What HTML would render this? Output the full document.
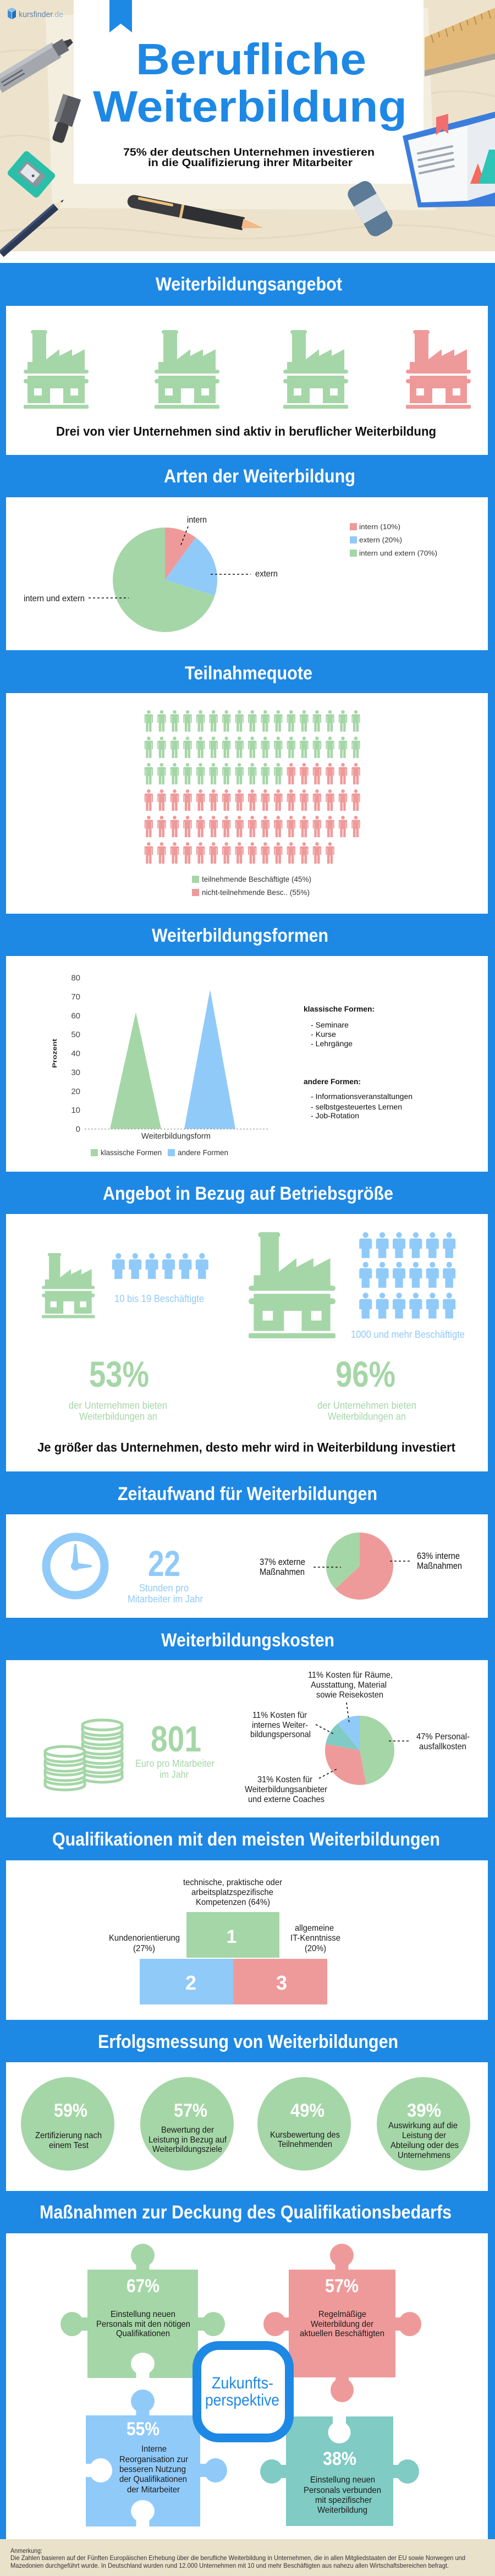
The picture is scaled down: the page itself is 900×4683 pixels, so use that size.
<!DOCTYPE html>
<html><head><meta charset="utf-8"><title>Berufliche Weiterbildung</title>
<style>
html,body{margin:0;padding:0;background:#fff;width:900px;height:4683px;overflow:hidden}
svg{display:block}
text{font-family:"Liberation Sans",Arial,Helvetica,sans-serif}
.tt{font-weight:bold;font-size:34px;fill:#fff}
.lb{font-size:16px;fill:#1a1a1a}
.sm{font-size:14px;fill:#333}
.bw{font-weight:bold;fill:#fff}
</style></head><body>
<svg width="900" height="4683" viewBox="0 0 900 4683" xmlns="http://www.w3.org/2000/svg">
<defs>
 <g id="fac">
  <rect x="13" y="0" width="30" height="7" rx="3.5"/>
  <rect x="16" y="6" width="25" height="54"/>
  <polygon points="40,60 40,54 65,35 65,47 88,35 88,47 111,35 111,60"/>
  <rect x="7" y="58" width="104" height="16"/>
  <rect x="0" y="72" width="118" height="7" rx="3.5"/>
  <rect x="7" y="83" width="104" height="50"/>
  <rect x="0" y="89" width="118" height="8" rx="4"/>
  <rect x="19" y="106" width="14" height="13" fill="#fff"/>
  <rect x="85" y="106" width="14" height="13" fill="#fff"/>
  <rect x="48" y="106" width="24" height="28" fill="#fff"/>
  <rect x="0" y="136" width="118" height="7" rx="2"/>
 </g>
 <g id="p1">
  <circle cx="0" cy="3.3" r="3.3"/>
  <path d="M-7.7,9.5 Q-7.7,7.5 -5.7,7.5 L5.7,7.5 Q7.7,7.5 7.7,9.5 L7.7,23 L5.7,23 L5.7,11 L5.1,11 L5.1,39 L0.6,39 L0.6,24 L-0.6,24 L-0.6,39 L-5.1,39 L-5.1,11 L-5.7,11 L-5.7,23 L-7.7,23 Z"/>
 </g>
 <g id="prow">
  <use href="#p1" x="270.4"/><use href="#p1" x="293.9"/><use href="#p1" x="317.5"/><use href="#p1" x="341.0"/>
  <use href="#p1" x="364.6"/><use href="#p1" x="388.1"/><use href="#p1" x="411.6"/><use href="#p1" x="435.2"/>
  <use href="#p1" x="458.7"/><use href="#p1" x="482.3"/><use href="#p1" x="505.8"/><use href="#p1" x="529.3"/>
  <use href="#p1" x="552.9"/><use href="#p1" x="576.4"/><use href="#p1" x="600.0"/><use href="#p1" x="623.5"/>
  <use href="#p1" x="647.0"/>
 </g>
 <g id="p2">
  <circle cx="0" cy="5.2" r="5.2"/>
  <path d="M-11.5,15 Q-11.5,11.5 -8,11.5 L8,11.5 Q11.5,11.5 11.5,15 L11.5,30 L7.2,30 L7.2,47 L-7.2,47 L-7.2,30 L-11.5,30 Z"/>
 </g>
 <g id="p2row">
  <use href="#p2" x="0"/><use href="#p2" x="30.4"/><use href="#p2" x="60.8"/><use href="#p2" x="91.2"/><use href="#p2" x="121.6"/><use href="#p2" x="152"/>
 </g>
 <g id="coin">
  <path d="M-36,0 L-36,10 A36,9 0 0 0 36,10 L36,0 A36,9 0 0 0 -36,0 Z" fill="#fff" stroke="#A5D6A7" stroke-width="5"/>
  <ellipse cx="0" cy="0" rx="36" ry="9" fill="#fff" stroke="#A5D6A7" stroke-width="5"/>
 </g>
</defs>

<!-- ============ HEADER ============ -->
<rect x="0" y="0" width="900" height="457" fill="#EDE3CC"/>
<g fill="none" stroke="#E5D9BF" stroke-width="3">
 <path d="M0,95 Q60,85 130,100"/>
 <path d="M0,250 Q40,240 90,255"/>
 <path d="M780,170 Q840,160 900,175"/>
 <path d="M0,420 Q150,405 300,425 T600,420 T900,430"/>
</g>
<polygon points="83,28 778,14 792,382 95,378" fill="#F4EEDF"/>
<rect x="134" y="0" width="636" height="334" fill="#fff"/>
<polygon points="199,0 240,0 240,59 219.5,43 199,59" fill="#1E88E5"/>

<!-- logo -->
<g transform="translate(14,14)">
 <polygon points="0,4 7,8 7,21 0,17" fill="#3E8FD8"/>
 <polygon points="8,8 15,4 15,17 8,21" fill="#1E6FB8"/>
 <polygon points="0,3 7.5,0 15,3 7.5,7" fill="#7EC0F0"/>
</g>
<text x="34" y="31" font-size="15" fill="#5E83AC" textLength="81" lengthAdjust="spacingAndGlyphs">kursfinder<tspan fill="#93B8DA">.de</tspan></text>

<!-- gray marker -->
<g transform="translate(-4,155) rotate(-31)">
 <rect x="0" y="-16" width="125" height="32" fill="#A4A7AD"/>
 <rect x="0" y="-16" width="125" height="8" fill="#BDC0C5"/>
 <rect x="8" y="-2" width="45" height="2.5" fill="#5F6267"/>
 <rect x="8" y="5" width="45" height="2.5" fill="#5F6267"/>
 <rect x="122" y="-12" width="22" height="24" fill="#6A6D73"/>
 <polygon points="144,-7 157,-4 157,4 144,7" fill="#3E4045"/>
</g>
<!-- dark marker -->
<g transform="translate(118,216) rotate(18)">
 <rect x="-17" y="-42" width="34" height="52" fill="#58595E"/>
 <rect x="-17" y="-42" width="9" height="52" fill="#7D7F84"/>
 <rect x="-11" y="8" width="22" height="36" rx="6" fill="#3F4044"/>
</g>
<!-- sharpener -->
<g transform="translate(57,317) rotate(40)">
 <rect x="-36" y="-28" width="72" height="56" rx="6" fill="#2BBFAA"/>
 <rect x="-22" y="-14" width="44" height="28" fill="#8E949C"/>
 <rect x="-18" y="-10" width="30" height="20" fill="#E4E8EC"/>
 <circle cx="4" cy="0" r="2.5" fill="#555"/>
</g>
<!-- pencil -->
<g transform="translate(2,462) rotate(-41)">
 <rect x="0" y="-7" width="132" height="14" fill="#2C3A55"/>
 <rect x="0" y="-7" width="132" height="4" fill="#41537A"/>
 <polygon points="132,-7 150,0 132,7" fill="#F1E2C4"/>
 <polygon points="145,-2 151,0 145,2" fill="#2C3A55"/>
</g>
<!-- fountain pen -->
<g transform="translate(232,364) rotate(11.5)">
 <rect x="0" y="-12" width="215" height="24" rx="12" fill="#3A3C40"/>
 <rect x="100" y="-12" width="115" height="24" fill="#2E3033"/>
 <rect x="18" y="-10" width="65" height="5" rx="2" fill="#F2C27C"/>
 <rect x="98" y="-12" width="5" height="24" fill="#F2C27C"/>
 <polygon points="213,-9 252,0 213,9" fill="#F3B989"/>
</g>
<!-- eraser -->
<g transform="translate(648,336) rotate(60)">
 <rect x="0" y="-24" width="100" height="48" rx="14" fill="#5B7B96"/>
 <rect x="32" y="-24" width="36" height="48" fill="#DCE1E6"/>
</g>
<!-- book -->
<polygon points="732,247 900,203 900,375 760,377" fill="#3B7DDD"/>
<polygon points="742,255 850,228 850,365 766,368" fill="#F7F8FA"/>
<polygon points="850,228 900,214 900,350 850,365" fill="#E9EDF1"/>
<polygon points="793,213 815,207 815,243 804,235 793,246" fill="#F26D6D"/>
<g stroke="#9FA8B2" stroke-width="4" stroke-linecap="round">
 <line x1="760" y1="279" x2="822" y2="266"/>
 <line x1="761" y1="291" x2="823" y2="278"/>
 <line x1="762" y1="303" x2="824" y2="290"/>
 <line x1="763" y1="315" x2="825" y2="302"/>
</g>
<polygon points="855,334 869,297 882,334" fill="#F26B5B"/>
<polygon points="870,334 889,272 900,272 900,334" fill="#2EC4B6"/>
<!-- ruler -->
<polygon points="772,68 900,14 900,97 772,128" fill="#E3B97A"/>
<polygon points="772,128 900,97 900,108 772,139" fill="#A9A49B"/>
<g stroke="#B98D4E" stroke-width="2">
 <line x1="784" y1="63" x2="788" y2="78"/><line x1="797" y1="58" x2="799" y2="68"/>
 <line x1="810" y1="52" x2="814" y2="67"/><line x1="823" y1="47" x2="825" y2="57"/>
 <line x1="836" y1="41" x2="840" y2="56"/><line x1="849" y1="36" x2="851" y2="46"/>
 <line x1="862" y1="30" x2="866" y2="45"/><line x1="875" y1="25" x2="877" y2="35"/>
 <line x1="888" y1="19" x2="892" y2="34"/>
</g>

<!-- title -->
<text x="247" y="135" font-size="80" font-weight="bold" fill="#1E88E5" textLength="419" lengthAdjust="spacingAndGlyphs">Berufliche</text>
<text x="169" y="221" font-size="80" font-weight="bold" fill="#1E88E5" textLength="571" lengthAdjust="spacingAndGlyphs">Weiterbildung</text>
<text x="224" y="283" font-size="19" font-weight="bold" fill="#111" textLength="457" lengthAdjust="spacingAndGlyphs">75% der deutschen Unternehmen investieren</text>
<text x="269" y="302" font-size="19" font-weight="bold" fill="#111" textLength="372" lengthAdjust="spacingAndGlyphs">in die Qualifizierung ihrer Mitarbeiter</text>

<!-- ============ BLUE BODY ============ -->
<rect x="0" y="478" width="900" height="4138" fill="#1E88E5"/>
<g fill="#fff">
 <rect x="11" y="556" width="876" height="271"/>
 <rect x="11" y="904" width="876" height="278"/>
 <rect x="11" y="1260" width="876" height="401"/>
 <rect x="11" y="1738" width="876" height="392"/>
 <rect x="11" y="2207" width="876" height="468"/>
 <rect x="11" y="2753" width="876" height="188"/>
 <rect x="11" y="3018" width="876" height="286"/>
 <rect x="11" y="3382" width="876" height="290"/>
 <rect x="11" y="3749" width="876" height="234"/>
 <rect x="11" y="4060" width="876" height="556"/>
</g>

<!-- section titles -->
<text class="tt" x="283" y="528" textLength="339" lengthAdjust="spacingAndGlyphs">Weiterbildungsangebot</text>
<text class="tt" x="298" y="877" textLength="348" lengthAdjust="spacingAndGlyphs">Arten der Weiterbildung</text>
<text class="tt" x="336" y="1235" textLength="232" lengthAdjust="spacingAndGlyphs">Teilnahmequote</text>
<text class="tt" x="276" y="1712" textLength="321" lengthAdjust="spacingAndGlyphs">Weiterbildungsformen</text>
<text class="tt" x="187" y="2181" textLength="528" lengthAdjust="spacingAndGlyphs">Angebot in Bezug auf Betriebsgröße</text>
<text class="tt" x="214" y="2727" textLength="472" lengthAdjust="spacingAndGlyphs">Zeitaufwand für Weiterbildungen</text>
<text class="tt" x="293" y="2993" textLength="315" lengthAdjust="spacingAndGlyphs">Weiterbildungskosten</text>
<text class="tt" x="95" y="3355" textLength="705" lengthAdjust="spacingAndGlyphs">Qualifikationen mit den meisten Weiterbildungen</text>
<text class="tt" x="178" y="3723" textLength="546" lengthAdjust="spacingAndGlyphs">Erfolgsmessung von Weiterbildungen</text>
<text class="tt" x="72" y="4033" textLength="749" lengthAdjust="spacingAndGlyphs">Maßnahmen zur Deckung des Qualifikationsbedarfs</text>

<!-- ===== Section 1 ===== -->
<use href="#fac" transform="translate(43,600)" fill="#A5D6A7"/>
<use href="#fac" transform="translate(281,600)" fill="#A5D6A7"/>
<use href="#fac" transform="translate(515,600)" fill="#A5D6A7"/>
<use href="#fac" transform="translate(738,600)" fill="#EF9A9A"/>
<text x="102" y="792" font-size="23" font-weight="bold" fill="#111" textLength="691" lengthAdjust="spacingAndGlyphs">Drei von vier Unternehmen sind aktiv in beruflicher Weiterbildung</text>

<!-- ===== Section 2 ===== -->
<path d="M300,1054 L300,959 A95,95 0 0 1 355.8,977.1 Z" fill="#EF9A9A"/>
<path d="M300,1054 L355.8,977.1 A95,95 0 0 1 390.4,1083.4 Z" fill="#90CAF9"/>
<path d="M300,1054 L390.4,1083.4 A95,95 0 1 1 300,959 Z" fill="#A5D6A7"/>
<g stroke="#111" stroke-width="1.6" stroke-dasharray="4 4" fill="none">
 <line x1="342" y1="957" x2="328" y2="993"/>
 <line x1="383" y1="1044" x2="456" y2="1044"/>
 <line x1="161" y1="1087" x2="234" y2="1087"/>
</g>
<text class="lb" x="340" y="950" textLength="36" lengthAdjust="spacingAndGlyphs">intern</text>
<text class="lb" x="464" y="1048" textLength="41" lengthAdjust="spacingAndGlyphs">extern</text>
<text class="lb" x="43" y="1093" textLength="111" lengthAdjust="spacingAndGlyphs">intern und extern</text>
<rect x="636" y="951" width="13" height="13" fill="#EF9A9A"/>
<rect x="636" y="975" width="13" height="13" fill="#90CAF9"/>
<rect x="636" y="999" width="13" height="13" fill="#A5D6A7"/>
<text x="653" y="962" font-size="13" fill="#333" textLength="75" lengthAdjust="spacingAndGlyphs">intern (10%)</text>
<text x="653" y="986" font-size="13" fill="#333" textLength="78" lengthAdjust="spacingAndGlyphs">extern (20%)</text>
<text x="653" y="1010" font-size="13" fill="#333" textLength="142" lengthAdjust="spacingAndGlyphs">intern und extern (70%)</text>

<!-- ===== Section 3 ===== -->
<use href="#prow" y="1291" fill="#A5D6A7"/>
<use href="#prow" y="1339" fill="#A5D6A7"/>
<g fill="#A5D6A7">
 <use href="#p1" x="270.4" y="1387"/><use href="#p1" x="293.9" y="1387"/><use href="#p1" x="317.5" y="1387"/><use href="#p1" x="341.0" y="1387"/>
 <use href="#p1" x="364.6" y="1387"/><use href="#p1" x="388.1" y="1387"/><use href="#p1" x="411.6" y="1387"/><use href="#p1" x="435.2" y="1387"/>
 <use href="#p1" x="458.7" y="1387"/><use href="#p1" x="482.3" y="1387"/><use href="#p1" x="505.8" y="1387"/>
</g>
<g fill="#EF9A9A">
 <use href="#p1" x="529.3" y="1387"/><use href="#p1" x="552.9" y="1387"/><use href="#p1" x="576.4" y="1387"/>
 <use href="#p1" x="600.0" y="1387"/><use href="#p1" x="623.5" y="1387"/><use href="#p1" x="647.0" y="1387"/>
</g>
<use href="#prow" y="1435" fill="#EF9A9A"/>
<use href="#prow" y="1483" fill="#EF9A9A"/>
<g fill="#EF9A9A">
 <use href="#p1" x="270.4" y="1531"/><use href="#p1" x="293.9" y="1531"/><use href="#p1" x="317.5" y="1531"/><use href="#p1" x="341.0" y="1531"/>
 <use href="#p1" x="364.6" y="1531"/><use href="#p1" x="388.1" y="1531"/><use href="#p1" x="411.6" y="1531"/><use href="#p1" x="435.2" y="1531"/>
 <use href="#p1" x="458.7" y="1531"/><use href="#p1" x="482.3" y="1531"/><use href="#p1" x="505.8" y="1531"/><use href="#p1" x="529.3" y="1531"/>
 <use href="#p1" x="552.9" y="1531"/><use href="#p1" x="576.4" y="1531"/><use href="#p1" x="600.0" y="1531"/>
</g>
<rect x="349" y="1592" width="13" height="13" fill="#A5D6A7"/>
<rect x="349" y="1616" width="13" height="13" fill="#EF9A9A"/>
<text class="sm" x="367" y="1603" textLength="199" lengthAdjust="spacingAndGlyphs">teilnehmende Beschäftigte (45%)</text>
<text class="sm" x="367" y="1627" textLength="196" lengthAdjust="spacingAndGlyphs">nicht-teilnehmende Besc.. (55%)</text>

<!-- ===== Section 4 ===== -->
<g font-size="15" fill="#444" text-anchor="end">
 <text x="146" y="1782.5">80</text>
 <text x="146" y="1816.9">70</text>
 <text x="146" y="1851.3">60</text>
 <text x="146" y="1885.6">50</text>
 <text x="146" y="1920">40</text>
 <text x="146" y="1954.4">30</text>
 <text x="146" y="1988.8">20</text>
 <text x="146" y="2023.1">10</text>
 <text x="146" y="2057.5">0</text>
</g>
<text transform="translate(103,1915) rotate(-90)" text-anchor="middle" font-size="11" font-weight="bold" fill="#222" textLength="53" lengthAdjust="spacingAndGlyphs">Prozent</text>
<polygon points="200,2052 247,1840 293,2052" fill="#A5D6A7"/>
<polygon points="335,2052 382,1799 428,2052" fill="#90CAF9"/>
<line x1="154" y1="2052.5" x2="488" y2="2052.5" stroke="#999" stroke-width="1.2" stroke-dasharray="3 3"/>
<text x="257" y="2070" font-size="15" fill="#333" textLength="126" lengthAdjust="spacingAndGlyphs">Weiterbildungsform</text>
<rect x="165" y="2089" width="13" height="13" fill="#A5D6A7"/>
<rect x="305" y="2089" width="13" height="13" fill="#90CAF9"/>
<text class="sm" x="183" y="2100" textLength="111" lengthAdjust="spacingAndGlyphs">klassische Formen</text>
<text class="sm" x="323" y="2100" textLength="92" lengthAdjust="spacingAndGlyphs">andere Formen</text>
<g font-size="14" fill="#111">
 <text x="552" y="1839" font-weight="bold" textLength="129" lengthAdjust="spacingAndGlyphs">klassische Formen:</text>
 <text x="565" y="1868" textLength="69" lengthAdjust="spacingAndGlyphs">- Seminare</text>
 <text x="565" y="1885" textLength="46" lengthAdjust="spacingAndGlyphs">- Kurse</text>
 <text x="565" y="1902" textLength="76" lengthAdjust="spacingAndGlyphs">- Lehrgänge</text>
 <text x="552" y="1971" font-weight="bold" textLength="104" lengthAdjust="spacingAndGlyphs">andere Formen:</text>
 <text x="565" y="1998" textLength="185" lengthAdjust="spacingAndGlyphs">- Informationsveranstaltungen</text>
 <text x="565" y="2017" textLength="166" lengthAdjust="spacingAndGlyphs">- selbstgesteuertes Lernen</text>
 <text x="565" y="2033" textLength="88" lengthAdjust="spacingAndGlyphs">- Job-Rotation</text>
</g>

<!-- ===== Section 5 ===== -->
<use href="#fac" transform="translate(76,2278) scale(0.817,0.828)" fill="#A5D6A7"/>
<use href="#fac" transform="translate(452,2240) scale(1.339,1.35)" fill="#A5D6A7"/>
<use href="#p2row" x="215.3" y="2278" fill="#90CAF9"/>
<use href="#p2row" x="664.7" y="2240" fill="#90CAF9"/>
<use href="#p2row" x="664.7" y="2294" fill="#90CAF9"/>
<use href="#p2row" x="664.7" y="2350" fill="#90CAF9"/>
<text x="208" y="2367" font-size="18" fill="#90CAF9" textLength="163" lengthAdjust="spacingAndGlyphs">10 bis 19 Beschäftigte</text>
<text x="638" y="2432" font-size="18" fill="#90CAF9" textLength="207" lengthAdjust="spacingAndGlyphs">1000 und mehr Beschäftigte</text>
<text x="162" y="2521" font-size="66" font-weight="bold" fill="#A5D6A7" textLength="109" lengthAdjust="spacingAndGlyphs">53%</text>
<text x="610" y="2521" font-size="66" font-weight="bold" fill="#A5D6A7" textLength="109" lengthAdjust="spacingAndGlyphs">96%</text>
<g font-size="18" fill="#A5D6A7">
 <text x="125" y="2561" textLength="179" lengthAdjust="spacingAndGlyphs">der Unternehmen bieten</text>
 <text x="144" y="2581" textLength="142" lengthAdjust="spacingAndGlyphs">Weiterbildungen an</text>
 <text x="577" y="2561" textLength="180" lengthAdjust="spacingAndGlyphs">der Unternehmen bieten</text>
 <text x="596" y="2581" textLength="142" lengthAdjust="spacingAndGlyphs">Weiterbildungen an</text>
</g>
<text x="68" y="2639" font-size="23" font-weight="bold" fill="#111" textLength="760" lengthAdjust="spacingAndGlyphs">Je größer das Unternehmen, desto mehr wird in Weiterbildung investiert</text>

<!-- ===== Section 6 ===== -->
<circle cx="137" cy="2847" r="53" fill="none" stroke="#90CAF9" stroke-width="15"/>
<g fill="#90CAF9">
 <path d="M131,2847 L135,2808 Q137,2805 139,2808 L143,2847 Z"/>
 <path d="M137,2841 L166,2845 Q168,2847 166,2849 L137,2853 Z"/>
 <circle cx="137" cy="2847" r="8"/>
</g>
<text x="269" y="2865" font-size="66" font-weight="bold" fill="#90CAF9" textLength="59" lengthAdjust="spacingAndGlyphs">22</text>
<text x="253" y="2893" font-size="18" fill="#90CAF9" textLength="90" lengthAdjust="spacingAndGlyphs">Stunden pro</text>
<text x="232" y="2913" font-size="18" fill="#90CAF9" textLength="137" lengthAdjust="spacingAndGlyphs">Mitarbeiter im Jahr</text>
<path d="M654,2847 L654,2786 A61,61 0 1 1 609.5,2888.8 Z" fill="#EF9A9A"/>
<path d="M654,2847 L609.5,2888.8 A61,61 0 0 1 654,2786 Z" fill="#A5D6A7"/>
<g stroke="#111" stroke-width="1.6" stroke-dasharray="4 4" fill="none">
 <line x1="570" y1="2849" x2="620" y2="2849"/>
 <line x1="709" y1="2838" x2="746" y2="2838"/>
</g>
<g font-size="17" fill="#111">
 <text x="472" y="2845" textLength="83" lengthAdjust="spacingAndGlyphs">37% externe</text>
 <text x="472" y="2863" textLength="82" lengthAdjust="spacingAndGlyphs">Maßnahmen</text>
 <text x="758" y="2834" textLength="78" lengthAdjust="spacingAndGlyphs">63% interne</text>
 <text x="758" y="2852" textLength="82" lengthAdjust="spacingAndGlyphs">Maßnahmen</text>
</g>

<!-- ===== Section 7 ===== -->
<use href="#coin" x="186" y="3221"/>
<use href="#coin" x="186" y="3204"/>
<use href="#coin" x="186" y="3187"/>
<use href="#coin" x="186" y="3170"/>
<use href="#coin" x="186" y="3153"/>
<use href="#coin" x="186" y="3136"/>
<use href="#coin" x="118" y="3235"/>
<use href="#coin" x="118" y="3218"/>
<use href="#coin" x="118" y="3201"/>
<use href="#coin" x="118" y="3184"/>
<text x="274" y="3184" font-size="66" font-weight="bold" fill="#A5D6A7" textLength="92" lengthAdjust="spacingAndGlyphs">801</text>
<text x="246" y="3212" font-size="18" fill="#A5D6A7" textLength="144" lengthAdjust="spacingAndGlyphs">Euro pro Mitarbeiter</text>
<text x="290" y="3232" font-size="18" fill="#A5D6A7" textLength="53" lengthAdjust="spacingAndGlyphs">im Jahr</text>
<path d="M654,3182 L654,3119 A63,63 0 0 1 665.8,3243.9 Z" fill="#A5D6A7"/>
<path d="M654,3182 L665.8,3243.9 A63,63 0 0 1 592.1,3170.2 Z" fill="#EF9A9A"/>
<path d="M654,3182 L592.1,3170.2 A63,63 0 0 1 613.8,3133.5 Z" fill="#80CBC4"/>
<path d="M654,3182 L613.8,3133.5 A63,63 0 0 1 654,3119 Z" fill="#90CAF9"/>
<g stroke="#111" stroke-width="1.6" stroke-dasharray="4 4" fill="none">
 <line x1="630" y1="3095" x2="635" y2="3133"/>
 <line x1="574" y1="3135" x2="608" y2="3153"/>
 <line x1="707" y1="3165" x2="746" y2="3165"/>
 <line x1="580" y1="3233" x2="614" y2="3215"/>
</g>
<g class="lb">
 <text class="lb" x="560" y="3050" textLength="154" lengthAdjust="spacingAndGlyphs">11% Kosten für Räume,</text>
 <text class="lb" x="565" y="3068" textLength="138" lengthAdjust="spacingAndGlyphs">Ausstattung, Material</text>
 <text class="lb" x="575" y="3086" textLength="122" lengthAdjust="spacingAndGlyphs">sowie Reisekosten</text>
 <text class="lb" x="459" y="3123" textLength="99" lengthAdjust="spacingAndGlyphs">11% Kosten für</text>
 <text class="lb" x="458" y="3141" textLength="102" lengthAdjust="spacingAndGlyphs">internes Weiter-</text>
 <text class="lb" x="455" y="3158" textLength="110" lengthAdjust="spacingAndGlyphs">bildungspersonal</text>
 <text class="lb" x="757" y="3162" textLength="97" lengthAdjust="spacingAndGlyphs">47% Personal-</text>
 <text class="lb" x="762" y="3180" textLength="86" lengthAdjust="spacingAndGlyphs">ausfallkosten</text>
 <text class="lb" x="468" y="3240" textLength="100" lengthAdjust="spacingAndGlyphs">31% Kosten für</text>
 <text class="lb" x="445" y="3258" textLength="150" lengthAdjust="spacingAndGlyphs">Weiterbildungsanbieter</text>
 <text class="lb" x="451" y="3276" textLength="139" lengthAdjust="spacingAndGlyphs">und externe Coaches</text>
</g>

<!-- ===== Section 8 ===== -->
<rect x="339" y="3476" width="169" height="83" fill="#A5D6A7"/>
<rect x="254" y="3561" width="170" height="83" fill="#90CAF9"/>
<rect x="424" y="3561" width="171" height="83" fill="#EF9A9A"/>
<text class="bw" x="421" y="3532" font-size="34" text-anchor="middle">1</text>
<text class="bw" x="347" y="3617" font-size="36" text-anchor="middle">2</text>
<text class="bw" x="512" y="3617" font-size="36" text-anchor="middle">3</text>
<text class="lb" x="333" y="3427" textLength="180" lengthAdjust="spacingAndGlyphs">technische, praktische oder</text>
<text class="lb" x="348" y="3445" textLength="149" lengthAdjust="spacingAndGlyphs">arbeitsplatzspezifische</text>
<text class="lb" x="356" y="3463" textLength="135" lengthAdjust="spacingAndGlyphs">Kompetenzen (64%)</text>
<text class="lb" x="198" y="3528" textLength="129" lengthAdjust="spacingAndGlyphs">Kundenorientierung</text>
<text class="lb" x="242" y="3547" textLength="40" lengthAdjust="spacingAndGlyphs">(27%)</text>
<text class="lb" x="536" y="3510" textLength="71" lengthAdjust="spacingAndGlyphs">allgemeine</text>
<text class="lb" x="528" y="3528" textLength="91" lengthAdjust="spacingAndGlyphs">IT-Kenntnisse</text>
<text class="lb" x="554" y="3547" textLength="39" lengthAdjust="spacingAndGlyphs">(20%)</text>

<!-- ===== Section 9 ===== -->
<g fill="#A5D6A7">
 <circle cx="123" cy="3861" r="85"/>
 <circle cx="340" cy="3861" r="85"/>
 <circle cx="553" cy="3861" r="85"/>
 <circle cx="770" cy="3861" r="85"/>
</g>
<text class="bw" x="98" y="3848" font-size="34" textLength="61" lengthAdjust="spacingAndGlyphs">59%</text>
<text class="bw" x="316" y="3848" font-size="34" textLength="61" lengthAdjust="spacingAndGlyphs">57%</text>
<text class="bw" x="528" y="3848" font-size="34" textLength="62" lengthAdjust="spacingAndGlyphs">49%</text>
<text class="bw" x="740" y="3848" font-size="34" textLength="62" lengthAdjust="spacingAndGlyphs">39%</text>
<text class="lb" x="64" y="3887" textLength="121" lengthAdjust="spacingAndGlyphs">Zertifizierung nach</text>
<text class="lb" x="89" y="3905" textLength="72" lengthAdjust="spacingAndGlyphs">einem Test</text>
<text class="lb" x="293" y="3877" textLength="96" lengthAdjust="spacingAndGlyphs">Bewertung der</text>
<text class="lb" x="270" y="3895" textLength="142" lengthAdjust="spacingAndGlyphs">Leistung in Bezug auf</text>
<text class="lb" x="277" y="3912" textLength="127" lengthAdjust="spacingAndGlyphs">Weiterbildungsziele</text>
<text class="lb" x="491" y="3886" textLength="127" lengthAdjust="spacingAndGlyphs">Kursbewertung des</text>
<text class="lb" x="505" y="3903" textLength="99" lengthAdjust="spacingAndGlyphs">Teilnehmenden</text>
<text class="lb" x="706" y="3869" textLength="126" lengthAdjust="spacingAndGlyphs">Auswirkung auf die</text>
<text class="lb" x="731" y="3887" textLength="80" lengthAdjust="spacingAndGlyphs">Leistung der</text>
<text class="lb" x="710" y="3905" textLength="124" lengthAdjust="spacingAndGlyphs">Abteilung oder des</text>
<text class="lb" x="723" y="3923" textLength="96" lengthAdjust="spacingAndGlyphs">Unternehmens</text>

<!-- ===== Section 10 ===== -->
<!-- green puzzle -->
<g fill="#A5D6A7">
 <rect x="159" y="4126" width="201" height="197"/>
 <ellipse cx="259.5" cy="4100" rx="21.5" ry="21"/>
 <rect x="247.5" y="4112" width="24" height="16"/>
 <ellipse cx="131" cy="4225" rx="21" ry="22"/>
 <rect x="146" y="4213" width="15" height="24"/>
 <ellipse cx="388" cy="4225" rx="21" ry="22"/>
 <rect x="358" y="4213" width="15" height="24"/>
</g>
<g fill="#fff">
 <ellipse cx="259.5" cy="4297" rx="21.5" ry="20"/>
 <rect x="247.5" y="4305" width="24" height="19"/>
</g>
<!-- red puzzle -->
<g fill="#EF9A9A">
 <rect x="525" y="4126" width="194" height="196"/>
 <ellipse cx="621.5" cy="4100" rx="21.5" ry="21"/>
 <rect x="609.5" y="4112" width="24" height="16"/>
 <ellipse cx="500" cy="4225" rx="21" ry="22"/>
 <rect x="514" y="4213" width="13" height="24"/>
 <ellipse cx="745" cy="4225" rx="21" ry="22"/>
 <rect x="717" y="4213" width="13" height="24"/>
 <ellipse cx="622" cy="4345" rx="21" ry="22"/>
 <rect x="610" y="4320" width="24" height="14"/>
</g>
<!-- blue puzzle -->
<g fill="#90CAF9">
 <rect x="156" y="4391" width="208" height="202"/>
 <ellipse cx="259.5" cy="4365" rx="21.5" ry="21"/>
 <rect x="247.5" y="4377" width="24" height="16"/>
 <ellipse cx="392" cy="4491" rx="21" ry="22"/>
 <rect x="362" y="4479" width="15" height="24"/>
</g>
<g fill="#fff">
 <ellipse cx="183" cy="4491" rx="21" ry="22"/>
 <rect x="155" y="4479" width="15" height="24"/>
 <ellipse cx="259.5" cy="4565" rx="21.5" ry="20"/>
 <rect x="247.5" y="4575" width="24" height="19"/>
</g>
<!-- teal puzzle -->
<g fill="#80CBC4">
 <rect x="520" y="4393" width="195" height="199"/>
 <ellipse cx="494" cy="4493" rx="21" ry="22"/>
 <rect x="509" y="4481" width="13" height="24"/>
 <ellipse cx="741" cy="4493" rx="21" ry="22"/>
 <rect x="713" y="4481" width="13" height="24"/>
</g>
<g fill="#fff">
 <ellipse cx="617" cy="4422" rx="20.5" ry="20"/>
 <rect x="605" y="4392" width="24" height="20"/>
</g>
<!-- center ring -->
<rect x="358" y="4264" width="168" height="168" rx="40" fill="#fff" stroke="#1E88E5" stroke-width="16"/>
<text x="385" y="4342" font-size="30" fill="#1E88E5" textLength="112" lengthAdjust="spacingAndGlyphs">Zukunfts-</text>
<text x="373" y="4373" font-size="30" fill="#1E88E5" textLength="135" lengthAdjust="spacingAndGlyphs">perspektive</text>

<text class="bw" x="230" y="4167" font-size="34" textLength="60" lengthAdjust="spacingAndGlyphs">67%</text>
<text class="lb" x="201" y="4212" textLength="118" lengthAdjust="spacingAndGlyphs">Einstellung neuen</text>
<text class="lb" x="175" y="4230" textLength="171" lengthAdjust="spacingAndGlyphs">Personals mit den nötigen</text>
<text class="lb" x="211" y="4247" textLength="98" lengthAdjust="spacingAndGlyphs">Qualifikationen</text>

<text class="bw" x="591" y="4167" font-size="34" textLength="61" lengthAdjust="spacingAndGlyphs">57%</text>
<text class="lb" x="579" y="4212" textLength="87" lengthAdjust="spacingAndGlyphs">Regelmäßige</text>
<text class="lb" x="565" y="4230" textLength="114" lengthAdjust="spacingAndGlyphs">Weiterbildung der</text>
<text class="lb" x="545" y="4247" textLength="154" lengthAdjust="spacingAndGlyphs">aktuellen Beschäftigten</text>

<text class="bw" x="230" y="4427" font-size="34" textLength="60" lengthAdjust="spacingAndGlyphs">55%</text>
<text class="lb" x="257" y="4457" textLength="46" lengthAdjust="spacingAndGlyphs">Interne</text>
<text class="lb" x="217" y="4476" textLength="125" lengthAdjust="spacingAndGlyphs">Reorganisation zur</text>
<text class="lb" x="217" y="4494" textLength="121" lengthAdjust="spacingAndGlyphs">besseren Nutzung</text>
<text class="lb" x="217" y="4512" textLength="123" lengthAdjust="spacingAndGlyphs">der Qualifikationen</text>
<text class="lb" x="231" y="4531" textLength="96" lengthAdjust="spacingAndGlyphs">der Mitarbeiter</text>

<text class="bw" x="587" y="4481" font-size="34" textLength="61" lengthAdjust="spacingAndGlyphs">38%</text>
<text class="lb" x="564" y="4513" textLength="118" lengthAdjust="spacingAndGlyphs">Einstellung neuen</text>
<text class="lb" x="552" y="4532" textLength="141" lengthAdjust="spacingAndGlyphs">Personals verbunden</text>
<text class="lb" x="573" y="4550" textLength="103" lengthAdjust="spacingAndGlyphs">mit spezifischer</text>
<text class="lb" x="577" y="4568" textLength="91" lengthAdjust="spacingAndGlyphs">Weiterbildung</text>

<!-- ============ FOOTER ============ -->
<rect x="0" y="4616" width="900" height="67" fill="#EAE1CB"/>
<g font-size="12" fill="#333">
 <text x="19" y="4641" textLength="58" lengthAdjust="spacingAndGlyphs">Anmerkung:</text>
 <text x="19" y="4654" textLength="827" lengthAdjust="spacingAndGlyphs">Die Zahlen basieren auf der Fünften Europäischen Erhebung über die berufliche Weiterbildung in Unternehmen, die in allen Mitgliedstaaten der EU sowie Norwegen und</text>
 <text x="19" y="4668" textLength="797" lengthAdjust="spacingAndGlyphs">Mazedonien durchgeführt wurde. In Deutschland wurden rund 12.000 Unternehmen mit 10 und mehr Beschäftigten aus nahezu allen Wirtschaftsbereichen befragt.</text>
</g>
</svg>
</body></html>
